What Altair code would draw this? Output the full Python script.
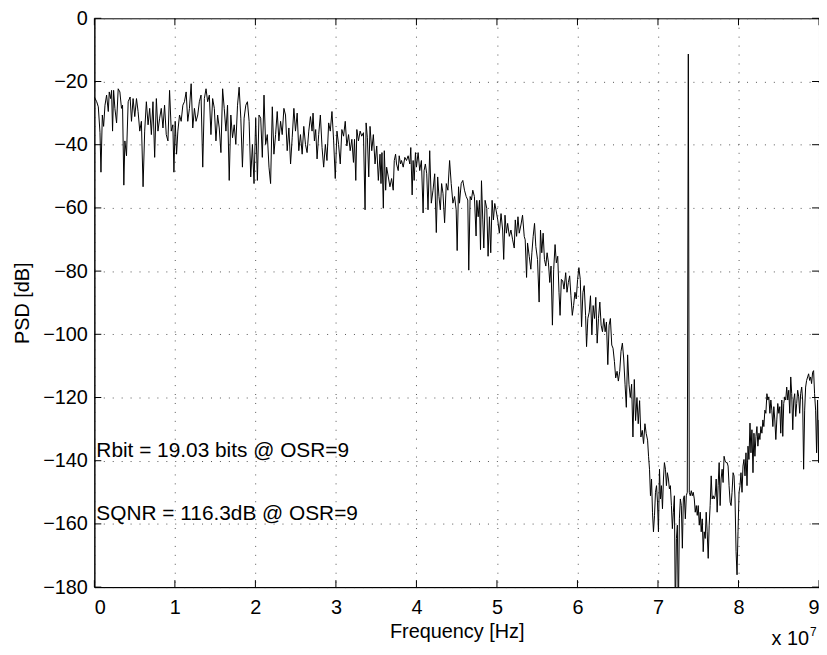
import altair as alt
import pandas as pd

# ---- data: frequency in MHz, PSD in dB ----
f1 = [0.0,0.29,0.49,0.70,0.82,0.99,1.15,1.32,1.52,1.73,1.85,2.02,2.14,2.26,2.39,2.55,2.76,2.96,3.17,3.37,3.50,3.66,3.79,3.99,4.20,4.44,4.61,4.81,5.02,5.23,5.43,5.64,5.84,6.05,6.25,6.46,6.67,6.87,7.08,7.28,7.49,7.70,7.90,8.11,8.31,8.52,8.72,8.93,9.14,9.34,9.55,9.75,9.88,10.04,10.21,10.37,10.58,10.78,10.99,11.19,11.40,11.60,11.81,12.02,12.22,12.43,12.63,12.84,13.04,13.25,13.46,13.66,13.87,14.07,14.28,14.48,14.69,14.90,15.10,15.31,15.51,15.72,15.93,16.13,16.34,16.54,16.75,16.95,17.16,17.37,17.57,17.78,17.98,18.19,18.39,18.60,18.81,19.01,19.22,19.42,19.63,19.83,20.04,20.25,20.45,20.66,20.86,21.07,21.27,21.48,21.69,21.89,22.10,22.30,22.51,22.71,22.92,23.13,23.33,23.54,23.74,23.95]
p1 = [-24.9,-26.4,-28.0,-36.2,-48.7,-30.6,-34.2,-27.5,-24.3,-29.5,-23.3,-25.4,-22.8,-35.7,-22.8,-28.5,-33.1,-22.3,-23.3,-28.5,-27.5,-52.8,-38.8,-43.5,-26.4,-24.9,-32.6,-25.4,-31.1,-25.4,-29.5,-35.7,-32.6,-53.3,-35.7,-26.4,-33.7,-28.5,-36.8,-26.4,-44.0,-25.4,-35.7,-31.6,-28.5,-34.7,-27.5,-36.8,-38.8,-22.8,-35.7,-33.7,-48.7,-32.6,-43.0,-35.7,-30.6,-32.6,-27.5,-26.4,-23.3,-32.6,-28.5,-20.7,-34.7,-28.5,-32.6,-30.6,-26.4,-24.3,-47.1,-25.4,-22.3,-26.4,-24.3,-36.8,-25.4,-28.5,-38.8,-30.6,-34.7,-42.5,-22.3,-28.5,-35.7,-27.5,-51.3,-30.6,-37.8,-33.7,-39.9,-27.5,-21.8,-31.6,-47.1,-31.6,-27.5,-26.4,-32.6,-50.2,-39.9,-52.3,-31.6,-51.3,-30.6,-31.6,-44.0,-24.3,-39.9,-36.8,-47.1,-52.3,-28.0,-43.0,-36.8,-29.5,-38.8,-32.6,-36.8,-28.5,-30.6,-41.9]

f2 = [24.16,24.37,24.57,24.78,24.98,25.19,25.39,25.60,25.81,26.01,26.22,26.42,26.63,26.84,27.04,27.16,27.33,27.49,27.66,27.86,28.07,28.28,28.48,28.69,28.89,29.10,29.30,29.51,29.72,29.92,30.13,30.33,30.54,30.74,30.95,31.16,31.36,31.57,31.77,31.98,32.18,32.31,32.47,32.60,32.80,33.01,33.21,33.42,33.62,33.75,33.91,34.08,34.24,34.45,34.65,34.86,35.07,35.27,35.48,35.60,35.72,35.89,36.01,36.18,36.30,36.51,36.71,36.92,37.12,37.25,37.41,37.53,37.74,37.86,38.03,38.15,38.36,38.56,38.77,38.97,39.18,39.30,39.47,39.59,39.72,39.88,40.00,40.21,40.41,40.62,40.83,40.95,41.11,41.28,41.44,41.65,41.85,42.06,42.27,42.47,42.64,42.80,42.97,43.13,43.30,43.50,43.71,43.91,44.12,44.32,44.53,44.74,44.94,45.06,45.23,45.35,45.56,45.76,45.97,46.18,46.38,46.50,46.67,46.83,47.00,47.20,47.41]
p2 = [-34.7,-46.1,-37.8,-28.5,-35.7,-30.0,-41.9,-36.8,-43.0,-34.2,-39.9,-42.5,-35.7,-31.1,-35.7,-30.0,-38.8,-35.2,-44.5,-36.8,-30.6,-40.9,-47.1,-39.9,-45.0,-33.1,-35.7,-29.5,-38.8,-50.7,-35.7,-39.9,-46.1,-35.2,-37.3,-32.6,-40.4,-36.8,-41.9,-38.3,-45.6,-38.3,-51.3,-35.2,-38.8,-35.7,-37.3,-36.2,-60.6,-33.1,-37.8,-50.2,-34.2,-41.9,-36.8,-46.1,-40.4,-51.3,-43.0,-52.3,-42.5,-60.1,-41.9,-54.4,-47.1,-50.2,-53.3,-50.7,-54.4,-45.0,-43.0,-46.1,-48.2,-43.5,-46.1,-45.0,-47.1,-44.0,-45.0,-43.5,-46.1,-40.9,-55.9,-45.0,-51.3,-42.5,-47.1,-42.5,-48.2,-45.0,-61.6,-48.2,-46.1,-49.2,-60.6,-41.9,-58.5,-54.4,-49.2,-67.8,-50.2,-56.4,-60.6,-52.3,-55.4,-64.7,-52.3,-54.4,-45.0,-52.3,-58.5,-56.4,-60.6,-73.5,-53.3,-58.5,-52.3,-51.3,-54.4,-56.4,-57.5,-79.7,-56.4,-57.5,-54.4,-56.4,-68.9]

f3 = [47.50,47.67,47.83,47.96,48.08,48.24,48.37,48.53,48.74,48.90,49.07,49.23,49.40,49.56,49.73,49.89,50.10,50.30,50.51,50.71,50.84,51.00,51.17,51.33,51.54,51.74,51.95,52.15,52.28,52.44,52.61,52.77,52.98,53.18,53.39,53.51,53.68,53.80,54.01,54.21,54.34,54.50,54.67,54.83,55.04,55.24,55.41,55.57,55.74,55.90,56.07,56.23,56.40,56.56,56.72,56.89,57.05,57.22,57.38,57.55,57.71,57.84,58.00,58.17,58.33,58.54,58.70,58.87,59.03,59.19,59.36,59.52,59.69,59.85,60.02,60.18,60.35,60.51,60.68,60.84,61.01,61.13,61.29,61.46,61.62,61.79,61.95,62.12,62.28,62.45,62.61,62.78,62.94,63.11,63.27,63.44,63.60,63.77,63.93,64.09,64.26,64.42,64.59,64.75,64.92,65.08,65.25,65.41,65.58,65.74,65.91,66.07,66.23,66.40,66.56,66.73,66.89,67.06,67.22,67.39,67.55,67.72,67.88,68.05,68.21,68.38,68.54,68.71]
p3 = [-57.6,-62.8,-57.6,-73.2,-51.4,-63.8,-72.7,-57.6,-60.2,-75.3,-62.8,-74.2,-57.6,-63.8,-58.6,-60.7,-63.8,-68.0,-61.8,-67.0,-76.3,-62.3,-68.0,-64.9,-69.0,-67.0,-70.1,-72.7,-63.8,-69.0,-62.8,-68.0,-65.4,-62.3,-69.0,-70.1,-82.0,-71.1,-75.3,-79.4,-74.2,-69.0,-64.9,-72.2,-76.3,-89.8,-67.0,-74.2,-68.0,-76.3,-78.4,-74.2,-77.4,-83.6,-78.4,-97.1,-79.4,-71.6,-77.4,-75.3,-86.7,-94.0,-82.6,-83.1,-85.7,-80.5,-86.7,-83.6,-81.5,-87.8,-94.0,-90.9,-86.7,-88.8,-82.6,-78.9,-82.6,-97.6,-86.7,-84.6,-94.0,-103.9,-95.0,-93.0,-87.8,-100.2,-90.9,-95.0,-88.3,-102.8,-95.0,-89.8,-97.1,-99.2,-95.0,-99.2,-96.1,-109.6,-97.1,-95.0,-103.4,-104.4,-108.6,-113.8,-111.7,-114.8,-111.7,-105.4,-102.8,-107.5,-115.8,-123.1,-106.5,-115.8,-120.0,-115.8,-132.5,-114.3,-127.3,-120.0,-128.3,-121.0,-132.5,-130.4,-134.6,-128.3,-131.4,-133.5]

f4 = [68.83,68.95,69.07,69.20,69.32,69.44,69.57,69.69,69.82,69.94,70.06,70.19,70.31,70.43,70.56,70.68,70.80,70.93,71.05,71.17,71.30,71.42,71.54,71.67,71.79,71.91,72.04,72.16,72.29,72.41,72.53,72.66,72.78,72.90,73.03,73.15,73.27,73.40,73.52,73.64,73.77,73.89,74.01,74.14,74.26,74.38,74.51,74.63,74.76,74.88,75.00,75.13,75.25,75.37,75.50,75.62,75.74,75.87,75.99,76.11,76.24,76.36,76.48,76.61,76.73,76.86,76.98,77.10,77.23,77.35,77.47,77.60,77.72,77.84,77.97,78.09,78.21,78.34,78.46,78.59,78.71,78.83,78.96,79.08,79.20,79.33,79.45,79.57,79.70,79.82,79.94,80.07,80.19,80.31,80.44,80.56,80.68,80.81,80.93,81.06,81.18,81.30,81.43,81.55,81.67,81.80,81.92,82.04,82.17,82.29,82.41,82.54,82.66,82.78,82.91,83.03,83.15,83.28,83.40,83.53,83.65,83.77,83.90,84.02,84.14,84.27,84.39,84.51,84.64,84.76,84.88,85.01,85.13,85.25,85.38,85.50,85.62,85.75,85.87,85.99,86.12,86.24,86.37,86.49,86.61,86.74,86.86,86.98,87.11,87.23,87.35,87.48,87.60,87.72,87.85,87.97,88.09,88.22,88.34,88.46,88.59,88.71,88.84,88.96,89.08,89.21,89.33,89.45,89.58,89.70,89.82,89.95,90.0]
p4 = [-138.6,-142.7,-151.1,-145.8,-156.3,-162.5,-157.3,-150.0,-147.9,-153.1,-162.5,-142.7,-152.1,-147.9,-155.2,-145.8,-140.6,-142.7,-147.9,-143.8,-145.8,-148.9,-147.9,-154.2,-161.5,-156.3,-151.1,-190.0,-164.6,-160.4,-190.0,-158.4,-152.1,-154.2,-167.7,-152.1,-151.1,-158.4,-151.1,-150.0,-11.3,-150.0,-151.1,-149.5,-151.1,-150.0,-152.1,-156.3,-154.2,-157.3,-154.2,-160.4,-156.3,-162.5,-158.4,-168.8,-162.5,-164.6,-156.3,-162.5,-170.9,-160.4,-154.2,-144.8,-152.1,-151.1,-152.1,-151.1,-145.8,-156.3,-147.9,-140.6,-154.2,-145.8,-142.7,-146.9,-138.6,-140.1,-140.6,-140.6,-141.7,-147.9,-153.1,-154.2,-150.0,-143.8,-144.8,-152.1,-168.8,-176.1,-162.5,-150.0,-147.9,-143.8,-150.0,-141.7,-139.6,-144.8,-137.5,-147.9,-135.4,-139.6,-128.1,-137.5,-130.2,-143.8,-131.3,-138.6,-132.3,-129.2,-135.4,-131.3,-133.3,-129.2,-131.3,-127.1,-129.2,-124.0,-125.0,-118.8,-120.8,-119.8,-125.0,-120.8,-124.0,-129.2,-122.9,-127.1,-133.3,-127.1,-121.9,-125.0,-122.9,-131.3,-120.8,-132.3,-121.9,-119.8,-120.8,-116.7,-120.8,-117.7,-125.0,-113.5,-118.8,-130.2,-120.8,-118.8,-126.0,-121.9,-117.7,-119.8,-125.0,-118.8,-116.7,-120.8,-142.7,-124.0,-116.7,-114.6,-113.5,-112.5,-114.6,-113.5,-115.6,-112.0,-111.5,-118.8,-124.0,-137.5,-120.8,-140.6,-127.1]

x_ticks = [0, 10, 20, 30, 40, 50, 60, 70, 80, 90]
y_ticks = [0, -20, -40, -60, -80, -100, -120, -140, -160, -180]
notes = ["Rbit = 19.03 bits @ OSR=9", "SQNR = 116.3dB @ OSR=9"]
note_y = [-140, -160]

df = pd.DataFrame({"f": f1 + f2 + f3 + f4, "psd": p1 + p2 + p3 + p4})

W, H = 730, 573
FONT = "Liberation Sans"
FS = 20

xs = alt.Scale(domain=[0, 90], nice=False, zero=False)
ys = alt.Scale(domain=[-180, 0], nice=False, zero=False)

line = alt.Chart(df).mark_line(color="black", strokeWidth=1, clip=True).encode(
    x=alt.X("f:Q", scale=xs, axis=alt.Axis(
        values=x_ticks, labelExpr="datum.value / 10", title="Frequency [Hz]",
        ticks=False, labelPadding=11, grid=True,
        titleY=51, titleBaseline="alphabetic")),
    y=alt.Y("psd:Q", scale=ys, axis=alt.Axis(
        values=y_ticks, title="PSD [dB]", ticks=False, labelPadding=7,
        grid=True, titleX=-66, titleBaseline="alphabetic")),
)

ticks_df = pd.DataFrame({"t": x_ticks})
ytick_df = pd.DataFrame({"t": y_ticks})
xt_bottom = alt.Chart(ticks_df).mark_rule(color="black", strokeWidth=1).encode(
    x=alt.X("t:Q", scale=xs), y=alt.value(H), y2=alt.value(H - 7))
xt_top = alt.Chart(ticks_df).mark_rule(color="black", strokeWidth=1).encode(
    x=alt.X("t:Q", scale=xs), y=alt.value(0), y2=alt.value(7))
yt_left = alt.Chart(ytick_df).mark_rule(color="black", strokeWidth=1).encode(
    y=alt.Y("t:Q", scale=ys), x=alt.value(0), x2=alt.value(7))
yt_right = alt.Chart(ytick_df).mark_rule(color="black", strokeWidth=1).encode(
    y=alt.Y("t:Q", scale=ys), x=alt.value(W), x2=alt.value(W - 7))

notes_df = pd.DataFrame({"x": [0, 0], "y": note_y, "label": notes})
note_text = alt.Chart(notes_df).mark_text(
    align="left", baseline="alphabetic", dx=2, dy=-4, fontSize=21, font=FONT, color="black"
).encode(x=alt.X("x:Q", scale=xs), y=alt.Y("y:Q", scale=ys), text="label:N")

exp_base = alt.Chart(pd.DataFrame({"s": ["x 10"]})).mark_text(
    align="right", baseline="alphabetic", fontSize=FS, font=FONT, color="black"
).encode(x=alt.value(W - 10), y=alt.value(H + 58), text="s:N")
exp_sup = alt.Chart(pd.DataFrame({"s": ["7"]})).mark_text(
    align="left", baseline="alphabetic", fontSize=12, font=FONT, color="black"
).encode(x=alt.value(W - 9), y=alt.value(H + 49), text="s:N")

chart = alt.layer(line, xt_bottom, xt_top, yt_left, yt_right, note_text, exp_base, exp_sup).properties(
    width=W, height=H,
    background="white",
    autosize=alt.AutoSizeParams(type="none"),
    padding={"left": 87, "top": 8, "right": 0, "bottom": 64},
).configure_view(
    stroke="black", strokeWidth=1
).configure_axis(
    domainColor="black", domainWidth=1,
    gridColor="#555555", gridDash=[1, 8], gridWidth=1, gridOpacity=1,
    labelFont=FONT, labelFontSize=FS, labelColor="black",
    titleFont=FONT, titleFontSize=FS, titleFontWeight="normal", titleColor="black",
)

chart.save("out.html", embed_options={"renderer": "svg", "actions": False})
